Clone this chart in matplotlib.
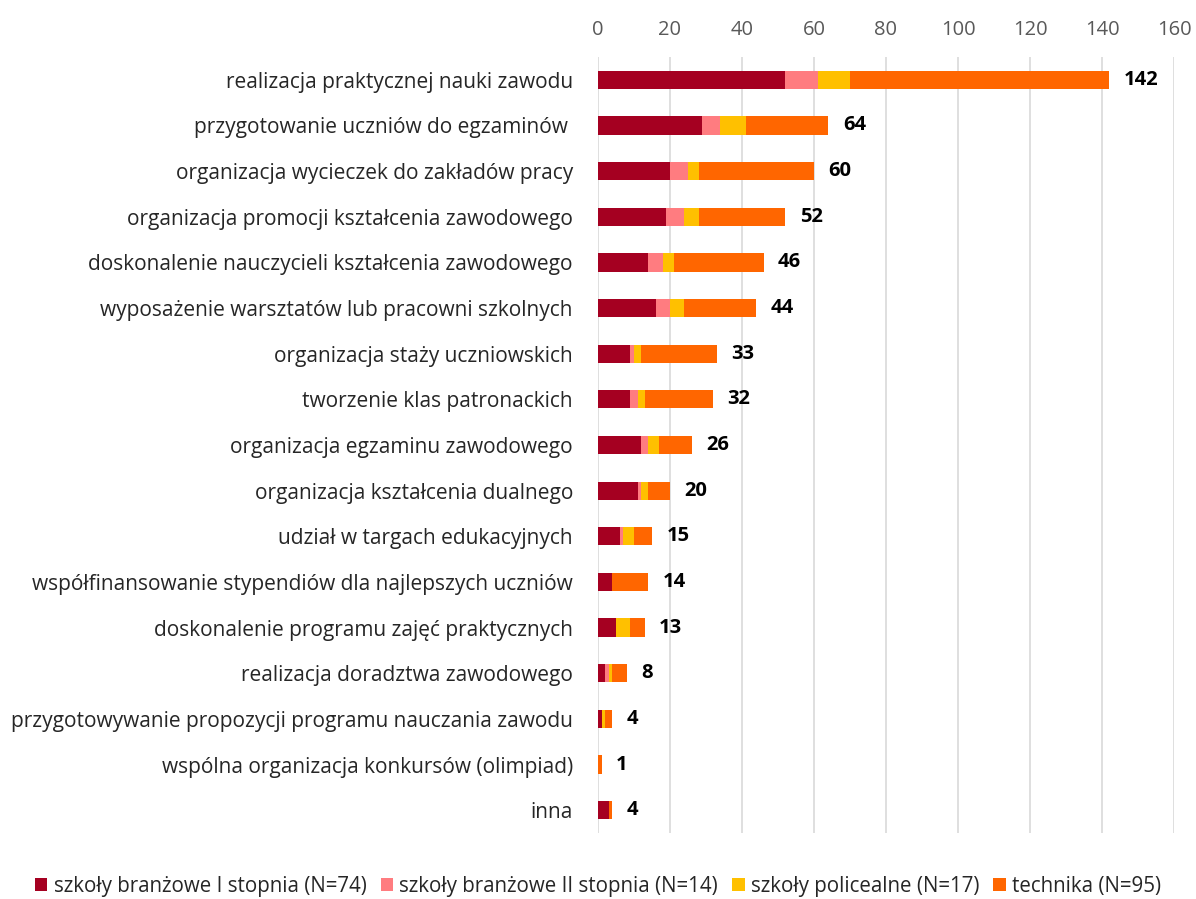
import matplotlib.pyplot as plt
import numpy as np

categories = [
    "realizacja praktycznej nauki zawodu",
    "przygotowanie uczniów do egzaminów ",
    "organizacja wycieczek do zakładów pracy",
    "organizacja promocji kształcenia zawodowego",
    "doskonalenie nauczycieli kształcenia zawodowego",
    "wyposażenie warsztatów lub pracowni szkolnych",
    "organizacja staży uczniowskich",
    "tworzenie klas patronackich",
    "organizacja egzaminu zawodowego",
    "organizacja kształcenia dualnego",
    "udział w targach edukacyjnych",
    "współfinansowanie stypendiów dla najlepszych uczniów",
    "doskonalenie programu zajęć praktycznych",
    "realizacja doradztwa zawodowego",
    "przygotowywanie propozycji programu nauczania zawodu",
    "wspólna organizacja konkursów (olimpiad)",
    "inna",
]
branzowe_1 = [52, 29, 20, 19, 14, 16, 9, 9, 12, 11, 6, 4, 5, 2, 1, 0, 3]
branzowe_2 = [9, 5, 5, 5, 4, 4, 1, 2, 2, 1, 1, 0, 0, 1, 0, 0, 0]
policealne = [9, 7, 3, 4, 3, 4, 2, 2, 3, 2, 3, 0, 4, 1, 1, 0, 0]
technika = [72, 23, 32, 24, 25, 20, 21, 19, 9, 6, 5, 10, 4, 4, 2, 1, 1]

series = [
    ("szkoły branżowe I stopnia (N=74)", branzowe_1, "#A50021"),
    ("szkoły branżowe II stopnia (N=14)", branzowe_2, "#FF7C80"),
    ("szkoły policealne (N=17)", policealne, "#FFC000"),
    ("technika (N=95)", technika, "#FF6600"),
]

plt.rcParams["font.family"] = ["Open Sans", "DejaVu Sans"]

fig = plt.figure(figsize=(11.96, 8.99), dpi=100)
ax = fig.add_axes([0.5, 0.0734, 0.4816, 0.8632])

y = np.arange(len(categories))
left = np.zeros(len(categories))
for label, vals, color in series:
    vals = np.array(vals)
    ax.barh(y, vals, left=left, height=0.4, color=color, label=label, zorder=3)
    left += vals

for yi, total in zip(y, left):
    ax.text(total + 4, yi, f"{int(total)}", va="center", ha="left",
            fontsize=14.5, fontweight="bold", color="black")

ax.set_xlim(0, 160)
ax.set_ylim(len(categories) - 0.5, -0.5)
ax.set_xticks(range(0, 161, 20))
ax.set_yticks(y)
ax.set_yticklabels(categories, fontsize=15, color="#262626")
ax.xaxis.tick_top()
ax.tick_params(axis="x", length=0, labelsize=14.5, labelcolor="#595959", pad=12)
ax.tick_params(axis="y", length=0, pad=18)
ax.grid(axis="x", color="#D9D9D9", linewidth=1.2, zorder=0)
for s in ax.spines.values():
    s.set_visible(False)

fig.legend(loc="lower center", bbox_to_anchor=(0.5, -0.018), ncol=4, frameon=False,
           fontsize=14.8, handlelength=0.6, handleheight=0.6, handletextpad=0.3,
           columnspacing=0.7, labelcolor="#262626")

fig.savefig("out.png", dpi=100)
